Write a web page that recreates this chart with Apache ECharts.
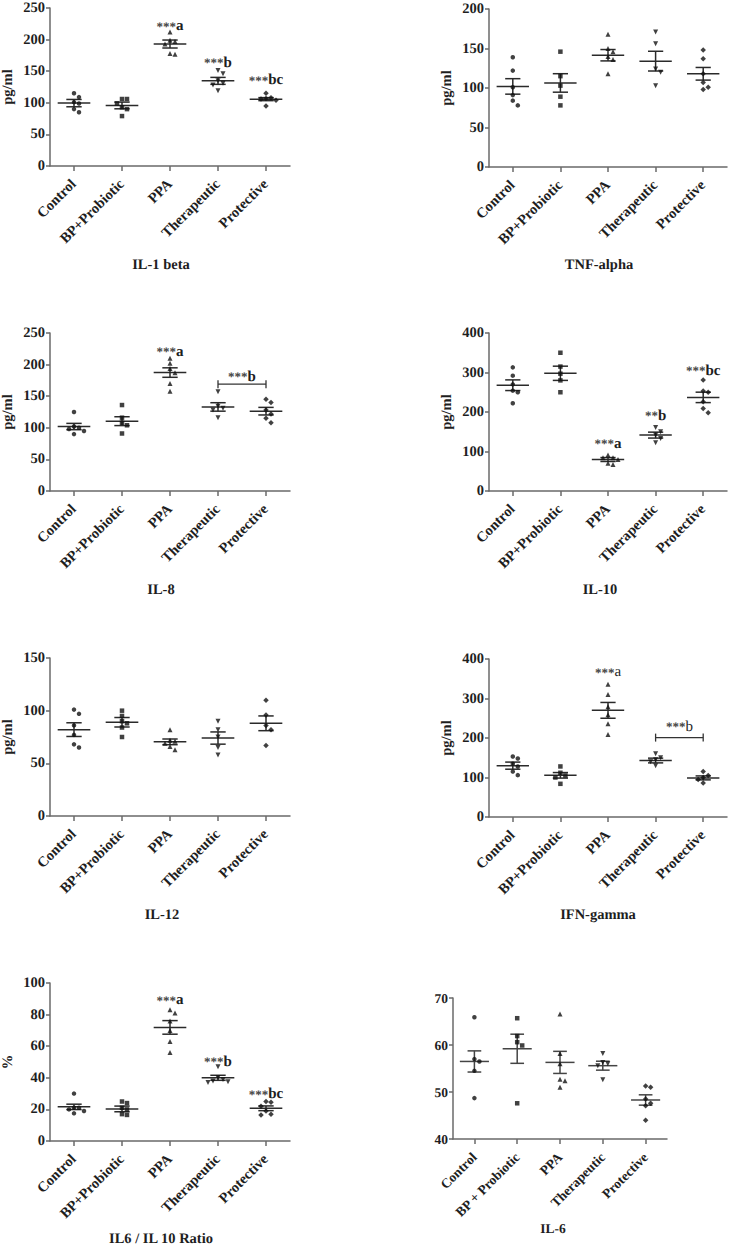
<!DOCTYPE html>
<html><head><meta charset="utf-8">
<script src="https://cdn.jsdelivr.net/npm/echarts@6/dist/echarts.min.js"></script>
<style>html,body{margin:0;padding:0;background:#fff}#c{width:729px;height:1249px}svg text{-webkit-font-smoothing:antialiased;text-rendering:geometricPrecision}</style>
</head><body><div id="c"></div>
<script>
// ---------- categories ----------
const categories = ['Control', 'BP+Probiotic', 'PPA', 'Therapeutic', 'Protective'];
const categoriesIL6 = ['Control', 'BP + Probiotic', 'PPA', 'Therapeutic', 'Protective'];

// ---------- IL-1 beta ----------
const il1bTicks = [0, 50, 100, 150, 200, 250];
const il1bValues = [[115, 109, 101, 99, 90, 85], [106, 106, 99, 93, 90, 79], [212, 199, 197, 193, 178, 177], [151, 146, 135, 131, 128, 119], [115, 108, 107, 106, 104, 95]];
const il1bMean = [99.5, 95.8, 193, 134.7, 105.8];
const il1bSem = [5.8, 5.3, 6.3, 5.5, 2.4];
const il1bMarks = ['', '', '***a', '***b', '***bc'];
const il1bMarkY = [null, null, 221, 163, 136];

// ---------- TNF-alpha ----------
const tnfTicks = [0, 50, 100, 150, 200];
const tnfValues = [[139, 122, 101, 91, 84, 78], [146, 115, 103, 89, 78], [168, 150, 146, 140, 136, 118], [171, 156, 124, 120, 103], [148, 137, 118, 107, 101, 98]];
const tnfMean = [102, 106.4, 141.5, 134, 118];
const tnfSem = [9.8, 11.7, 7.2, 12.5, 8];

// ---------- IL-8 ----------
const il8Ticks = [0, 50, 100, 150, 200, 250];
const il8Values = [[125, 102, 100, 98, 95, 90], [136, 116, 108, 104, 91], [210, 202, 194, 187, 170, 158], [157, 134, 131, 128, 116], [145, 140, 128, 122, 115, 108]];
const il8Mean = [102, 110.5, 187.4, 133, 126.3];
const il8Sem = [5, 7, 7.5, 6.7, 6];
const il8Marks = ['', '', '***a', '', ''];
const il8MarkY = [null, null, 220, null, null];
const il8Bracket = {from: 3, to: 4, y: 169, text: '***b', textY: 181};

// ---------- IL-10 ----------
const il10Ticks = [0, 100, 200, 300, 400];
const il10Values = [[313, 292, 270, 254, 250, 222], [350, 315, 297, 280, 250], [91, 84, 84, 80, 70, 67], [161, 150, 142, 133, 122], [281, 253, 250, 226, 209, 198]];
const il10Mean = [267.8, 298, 79.7, 141.5, 237];
const il10Sem = [13.5, 18, 5, 7.5, 13.2];
const il10Marks = ['', '', '***a', '**b', '***bc'];
const il10MarkY = [null, null, 120, 190, 304];

// ---------- IL-12 ----------
const il12Ticks = [0, 50, 100, 150];
const il12Values = [[101, 97, 86, 77, 68, 65], [100, 95, 90, 88, 84, 75], [82, 72, 71, 69, 66, 63], [90, 82, 75, 65, 58], [110, 96, 86, 82, 67]];
const il12Mean = [82, 89, 70.4, 74, 88];
const il12Sem = [6.5, 4.5, 2.7, 5.8, 7];

// ---------- IFN-gamma ----------
const ifnTicks = [0, 100, 200, 300, 400];
const ifnValues = [[153, 148, 135, 128, 115, 106], [128, 112, 105, 100, 84], [336, 310, 279, 259, 236, 209], [160, 150, 145, 140, 130], [115, 105, 100, 95, 86]];
const ifnMean = [130, 105.5, 270, 143, 99];
const ifnSem = [9, 7, 20, 6, 5];
const ifnMarks = ['', '', '***a', '', ''];
const ifnMarkY = [null, null, 366, null, null];
const ifnBracket = {from: 3, to: 4, y: 201, text: '***b', textY: 229};

// ---------- IL6 / IL 10 Ratio ----------
const ratioTicks = [0, 20, 40, 60, 80, 100];
const ratioValues = [[30, 21, 21, 20, 19, 17.5], [25, 24, 21, 20, 17, 16.5], [83, 81, 76, 70, 63, 56], [47, 40, 39, 38, 37.5, 37], [25, 24.5, 22, 19, 17, 16.5]];
const ratioMean = [21.6, 20.3, 71.9, 40, 20.7];
const ratioSem = [1.7, 1.8, 4.3, 1.6, 1.5];
const ratioMarks = ['', '', '***a', '***b', '***bc'];
const ratioMarkY = [null, null, 89, 50.3, 29.6];

// ---------- IL-6 ----------
const il6Ticks = [40, 50, 60, 70];
const il6Values = [[65.9, 57, 56.5, 54.5, 48.7], [65.7, 61.9, 60.6, 59.9, 47.6], [66.6, 58.2, 56, 52.7, 52.4, 51], [58.2, 56.3, 56, 55.6, 52.6], [51.3, 51, 48.5, 47.6, 47.1, 44]];
const il6Mean = [56.5, 59.2, 56.3, 55.6, 48.3];
const il6Sem = [2.25, 3.1, 2.35, 0.95, 1.1];

// ---------- layout ----------
const FONT = '"Liberation Serif", "Times New Roman", serif';
const TXT = '#1e1e1e';
const STAR = '#3c3c3c';
const AX = '#6a6a6a';
const shapes = ['circle', 'rect', 'triangle', 'triangle', 'diamond'];
const rots = [0, 0, 0, 180, 0];
const sizes = [4.5, 4.5, 5, 5, 5.5];

const panels = [
  {name: 'IL-1 beta', cats: categories, ticks: il1bTicks, values: il1bValues, mean: il1bMean, sem: il1bSem, marks: il1bMarks, markY: il1bMarkY, yName: 'pg/ml', grid: {left: 50, top: 8, width: 240, height: 158}, title: [161, 265], fs: 14.5},
  {name: 'TNF-alpha', cats: categories, ticks: tnfTicks, values: tnfValues, mean: tnfMean, sem: tnfSem, yName: 'pg/ml', grid: {left: 489, top: 9, width: 238, height: 158}, title: [599, 265], fs: 14.5},
  {name: 'IL-8', cats: categories, ticks: il8Ticks, values: il8Values, mean: il8Mean, sem: il8Sem, marks: il8Marks, markY: il8MarkY, bracket: il8Bracket, yName: 'pg/ml', grid: {left: 50, top: 333, width: 240, height: 158}, title: [161, 590], fs: 14.5},
  {name: 'IL-10', cats: categories, ticks: il10Ticks, values: il10Values, mean: il10Mean, sem: il10Sem, marks: il10Marks, markY: il10MarkY, yName: 'pg/ml', grid: {left: 489, top: 333, width: 238, height: 158}, title: [600, 590], fs: 14.5},
  {name: 'IL-12', cats: categories, ticks: il12Ticks, values: il12Values, mean: il12Mean, sem: il12Sem, yName: 'pg/ml', grid: {left: 50, top: 658, width: 240, height: 158}, title: [162, 915], fs: 14.5},
  {name: 'IFN-gamma', cats: categories, ticks: ifnTicks, values: ifnValues, mean: ifnMean, sem: ifnSem, marks: ifnMarks, markY: ifnMarkY, bracket: ifnBracket, light: true, yName: 'pg/ml', grid: {left: 489, top: 659, width: 238, height: 158}, title: [598, 915], fs: 14.5},
  {name: 'IL6 / IL 10 Ratio', cats: categories, ticks: ratioTicks, values: ratioValues, mean: ratioMean, sem: ratioSem, marks: ratioMarks, markY: ratioMarkY, yName: '%', grid: {left: 50, top: 983, width: 240, height: 158}, title: [161, 1239], fs: 14.5},
  {name: 'IL-6', cats: categoriesIL6, ticks: il6Ticks, values: il6Values, mean: il6Mean, sem: il6Sem, yName: '', grid: {left: 453, top: 998, width: 214, height: 141}, title: [553, 1228], fs: 13.5, grey: true}
];

const grids = [], xAxes = [], yAxes = [], series = [], graphics = [];

const measureCtx = document.createElement('canvas').getContext('2d');
function textW(t, font) { measureCtx.font = font; return measureCtx.measureText(t).width; }
function splitMark(t) {
  const m = t.match(/^(\*+)(.*)$/);
  return m ? [m[1], m[2]] : ['', t];
}
// two text elements: grey asterisks + letter(s), centred together on (x, y)
function markElements(t, x, y, light) {
  const [stars, letters] = splitMark(t);
  const sFont = 'bold 13px ' + FONT;
  const lFont = (light ? 'normal' : 'bold') + ' 15px ' + FONT;
  const ws = textW(stars, sFont), wl = textW(letters, lFont);
  const split = x - (ws + wl) / 2 + ws;
  return [
    {type: 'text', x: split, y: y, style: {text: stars, font: sFont, fill: STAR, align: 'right', verticalAlign: 'middle'}},
    {type: 'text', x: split, y: y, style: {text: letters, font: lFont, fill: TXT, align: 'left', verticalAlign: 'middle'}}
  ];
}

panels.forEach((p, gi) => {
  const tMin = p.ticks[0], tMax = p.ticks[p.ticks.length - 1];
  grids.push(Object.assign({outerBoundsMode: 'none', containLabel: false}, p.grid));
  const lineStyle = {color: AX, width: 1.5};
  xAxes.push({
    gridIndex: gi, type: 'category', data: p.cats, boundaryGap: true,
    axisLine: {show: true, onZero: false, lineStyle},
    axisTick: {show: true, alignWithLabel: true, length: 5, lineStyle},
    axisLabel: {interval: 0, rotate: 45, margin: 16, fontFamily: FONT, fontWeight: 'bold', fontSize: p.fs, color: TXT},
    splitLine: {show: false}
  });
  yAxes.push({
    gridIndex: gi, type: 'value', min: tMin, max: tMax, interval: p.ticks[1] - p.ticks[0],
    name: p.yName, nameLocation: 'middle', nameRotate: 90, nameGap: 35,
    nameTextStyle: {fontFamily: FONT, fontWeight: 'bold', fontSize: 14.5, color: TXT},
    axisLine: {show: true, lineStyle},
    axisTick: {show: true, length: 4, lineStyle},
    axisLabel: {margin: 5, fontFamily: FONT, fontWeight: 'bold', fontSize: p.fs, color: TXT},
    splitLine: {show: false}
  });

  // points with collision-based horizontal spreading
  const ppu = p.grid.height / (tMax - tMin);
  const data = [];
  p.values.forEach((arr, ci) => {
    const placed = [];
    arr.slice().sort((a, b) => b - a).forEach(v => {
      const py = v * ppu, s = 5;
      let off = 0;
      for (const c of [0, s, -s, 2 * s, -2 * s]) {
        if (!placed.some(q => Math.abs(q.y - py) < s && Math.abs(q.x - c) < s)) { off = c; break; }
      }
      placed.push({x: off, y: py});
      data.push({value: [ci, v], symbol: shapes[ci], symbolRotate: rots[ci], symbolSize: sizes[ci], symbolOffset: [off, 0]});
    });
  });
  series.push({type: 'scatter', xAxisIndex: gi, yAxisIndex: gi, data, itemStyle: {color: '#111'}, silent: true, z: 4, animation: false});

  // mean and SEM
  const mcol = p.grey ? '#444' : '#2a2a2a';
  series.push({
    type: 'custom', xAxisIndex: gi, yAxisIndex: gi, silent: true, z: 3, animation: false,
    data: p.mean.map((m, i) => [i, m, p.sem[i]]),
    renderItem: (params, api) => {
      const i = api.value(0), m = api.value(1), s = api.value(2);
      const c = api.coord([i, m]), t = api.coord([i, m + s]), b = api.coord([i, m - s]);
      const bw = api.size([1, 0])[0];
      const hm = bw * 0.34, hs = bw * 0.16;
      const st = {stroke: mcol, lineWidth: 1.5};
      return {type: 'group', children: [
        {type: 'line', shape: {x1: c[0] - hm, y1: c[1], x2: c[0] + hm, y2: c[1]}, style: st},
        {type: 'line', shape: {x1: c[0] - hs, y1: t[1], x2: c[0] + hs, y2: t[1]}, style: st},
        {type: 'line', shape: {x1: c[0] - hs, y1: b[1], x2: c[0] + hs, y2: b[1]}, style: st},
        {type: 'line', shape: {x1: c[0], y1: t[1], x2: c[0], y2: b[1]}, style: st}
      ]};
    }
  });

  if (p.marks) {
    const md = [];
    p.marks.forEach((t, i) => { if (t) md.push([i, p.markY[i]]); });
    series.push({
      type: 'custom', xAxisIndex: gi, yAxisIndex: gi, silent: true, z: 5, animation: false, data: md,
      renderItem: (params, api) => {
        const i = api.value(0);
        const c = api.coord([i, api.value(1)]);
        return {type: 'group', children: markElements(p.marks[i], c[0], c[1], p.light)};
      }
    });
  }
  if (p.bracket) {
    const br = p.bracket;
    series.push({
      type: 'custom', xAxisIndex: gi, yAxisIndex: gi, silent: true, z: 5, animation: false,
      data: [[br.from, br.to, br.y, br.textY]],
      renderItem: (params, api) => {
        const a = api.coord([api.value(0), api.value(2)]);
        const b = api.coord([api.value(1), api.value(2)]);
        const ty = api.coord([api.value(0), api.value(3)])[1];
        const st = {stroke: '#333', lineWidth: 1.3};
        return {type: 'group', children: [
          {type: 'line', shape: {x1: a[0], y1: a[1], x2: b[0], y2: b[1]}, style: st},
          {type: 'line', shape: {x1: a[0], y1: a[1] - 4, x2: a[0], y2: a[1] + 4}, style: st},
          {type: 'line', shape: {x1: b[0], y1: b[1] - 4, x2: b[0], y2: b[1] + 4}, style: st}
        ].concat(markElements(br.text, (a[0] + b[0]) / 2, ty, p.light))};
      }
    });
  }

  graphics.push({type: 'text', x: p.title[0], y: p.title[1], silent: true,
    style: {text: p.name, fontFamily: FONT, fontWeight: 'bold', fontSize: p.fs, fill: TXT, align: 'center', verticalAlign: 'middle'}});
});

const chart = echarts.init(document.getElementById('c'), null, {renderer: 'svg'});
chart.setOption({
  backgroundColor: '#fff',
  animation: false,
  grid: grids, xAxis: xAxes, yAxis: yAxes, series, graphic: graphics
});
</script></body></html>
